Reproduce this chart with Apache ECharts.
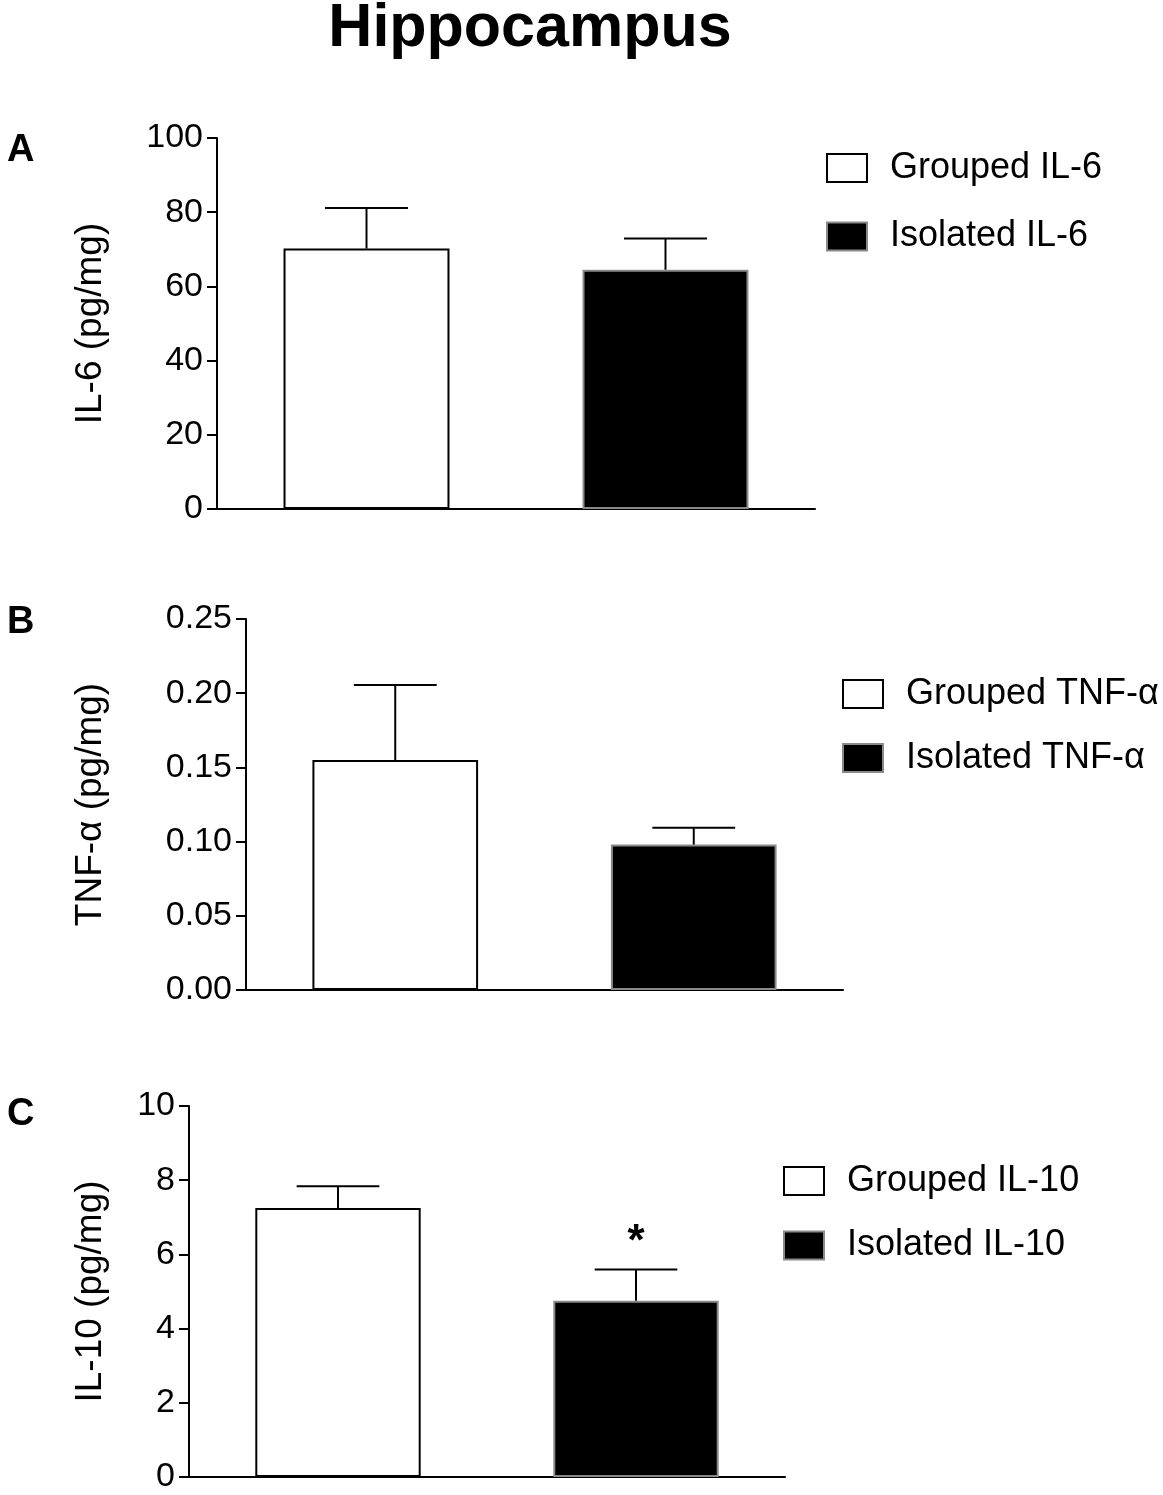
<!DOCTYPE html>
<html>
<head>
<meta charset="utf-8">
<script src="https://cdn.jsdelivr.net/npm/echarts@6/dist/echarts.min.js"></script>
<style>
html,body{margin:0;padding:0;background:#fff;}
#chart{width:1163px;height:1495px;}
</style>
</head>
<body>
<div id="chart"></div>
<script>
// ---------- data ----------
const categories = ['Grouped', 'Isolated'];

const il6Mean = [70.2, 64.5];
const il6Sem = [10.9, 8.4];
const il6Ticks = [0, 20, 40, 60, 80, 100];

const tnfMean = [0.155, 0.098];
const tnfSem = [0.0505, 0.0114];
const tnfTicks = ['0.00', '0.05', '0.10', '0.15', '0.20', '0.25'];

const il10Mean = [7.25, 4.75];
const il10Sem = [0.59, 0.84];
const il10Ticks = [0, 2, 4, 6, 8, 10];
const il10Sig = ['', '*'];

const panelLetters = ['A', 'B', 'C'];
const seriesNamesA = ['Grouped IL-6', 'Isolated IL-6'];
const seriesNamesB = ['Grouped TNF-α', 'Isolated TNF-α'];
const seriesNamesC = ['Grouped IL-10', 'Isolated IL-10'];
const yNames = ['IL-6 (pg/mg)', 'TNF-α (pg/mg)', 'IL-10 (pg/mg)'];
const mainTitle = 'Hippocampus';

// ---------- styling ----------
const FONT = "'Liberation Sans', Arial, Helvetica, sans-serif";
const TICK_FS = 34;
const NAME_FS = 37;
const LEG_FS = 36;

const grids = [
  {left: 217, top: 138, width: 598, height: 371},
  {left: 246, top: 619, width: 597, height: 371},
  {left: 189, top: 1106, width: 596, height: 371}
];
const nameGaps = [108, 137, 80];
const legendPos = [
  {left: 826, top: 150, itemGap: 32.5},
  {left: 842, top: 676, itemGap: 28},
  {left: 783, top: 1163, itemGap: 28.5}
];

const BAR_W = '55.5%';
const CAP_FRAC = 0.2775;

const whiteStyle = {color: '#ffffff', borderColor: '#000000', borderWidth: 2};
const blackStyle = {color: '#000000', borderColor: '#8a8a8a', borderWidth: 2};

function yAxisFor(i, ticks, labelFn) {
  const nums = ticks.map(Number);
  return {
    type: 'value', gridIndex: i,
    min: nums[0], max: nums[nums.length - 1],
    interval: nums[1] - nums[0],
    splitLine: {show: false},
    axisLine: {show: true, lineStyle: {color: '#000', width: 2}},
    axisTick: {show: true, length: 10, lineStyle: {color: '#000', width: 2}},
    axisLabel: {
      color: '#000', fontSize: TICK_FS, fontFamily: FONT, margin: 14,
      formatter: labelFn
    },
    name: yNames[i], nameLocation: 'middle', nameGap: nameGaps[i],
    nameTextStyle: {color: '#000', fontSize: NAME_FS, fontFamily: FONT}
  };
}

function xAxisFor(i) {
  return {
    type: 'category', gridIndex: i, data: categories,
    boundaryGap: true,
    axisLine: {show: true, lineStyle: {color: '#000', width: 2}},
    axisTick: {show: false},
    axisLabel: {show: false},
    splitLine: {show: false}
  };
}

function barSeries(i, names, means) {
  return [
    {
      name: names[0], type: 'bar', xAxisIndex: i, yAxisIndex: i,
      data: [means[0], '-'], barWidth: BAR_W, barGap: '-100%',
      itemStyle: whiteStyle, z: 2
    },
    {
      name: names[1], type: 'bar', xAxisIndex: i, yAxisIndex: i,
      data: ['-', means[1]], barWidth: BAR_W, barGap: '-100%',
      itemStyle: blackStyle, z: 2
    }
  ];
}

function errSeries(i, means, sems, sig) {
  return {
    type: 'custom', xAxisIndex: i, yAxisIndex: i, z: 3,
    data: means.map((m, k) => [k, m, sems[k]]),
    renderItem: function (params, api) {
      const x = api.value(0), m = api.value(1), e = api.value(2);
      const base = api.coord([x, m]);
      const top = api.coord([x, m + e]);
      const half = api.size([1, 0])[0] * CAP_FRAC / 2;
      const st = {stroke: '#000', lineWidth: 2};
      const children = [
        {type: 'line', shape: {x1: base[0], y1: base[1], x2: top[0], y2: top[1]}, style: st},
        {type: 'line', shape: {x1: top[0] - half, y1: top[1], x2: top[0] + half, y2: top[1]}, style: st}
      ];
      const s = sig ? sig[params.dataIndex] : '';
      if (s) {
        children.push({
          type: 'text',
          style: {
            text: s, x: top[0], y: top[1] - 5,
            textAlign: 'center', textVerticalAlign: 'bottom',
            fontSize: 44, fontWeight: 'bold', fontFamily: FONT, fill: '#000'
          }
        });
      }
      return {type: 'group', children: children};
    }
  };
}

function legendFor(i, names) {
  return {
    orient: 'vertical', left: legendPos[i].left, top: legendPos[i].top,
    itemGap: legendPos[i].itemGap, padding: 0,
    itemWidth: 40, itemHeight: 28, icon: 'rect',
    selectedMode: false,
    data: names,
    textStyle: {color: '#000', fontSize: LEG_FS, fontFamily: FONT, lineHeight: 36, padding: [0, 0, 0, 18]}
  };
}

const chart = echarts.init(document.getElementById('chart'), null, {renderer: 'canvas'});

const letterStyle = {fontSize: 38, fontWeight: 'bold', fontFamily: FONT, color: '#000'};

const option = {
  backgroundColor: '#ffffff',
  animation: false,
  title: [
    {text: mainTitle, left: 525, top: -6, textAlign: 'center',
     textStyle: {fontSize: 61, fontWeight: 'bold', fontFamily: FONT, color: '#000'}},
    {text: panelLetters[0], left: 2, top: 127, textStyle: letterStyle},
    {text: panelLetters[1], left: 2, top: 599, textStyle: letterStyle},
    {text: panelLetters[2], left: 2, top: 1091, textStyle: letterStyle}
  ],
  legend: [legendFor(0, seriesNamesA), legendFor(1, seriesNamesB), legendFor(2, seriesNamesC)],
  grid: grids,
  xAxis: [xAxisFor(0), xAxisFor(1), xAxisFor(2)],
  yAxis: [
    yAxisFor(0, il6Ticks, v => String(v)),
    yAxisFor(1, tnfTicks, v => Number(v).toFixed(2)),
    yAxisFor(2, il10Ticks, v => String(v))
  ],
  series: [].concat(
    barSeries(0, seriesNamesA, il6Mean),
    [errSeries(0, il6Mean, il6Sem, null)],
    barSeries(1, seriesNamesB, tnfMean),
    [errSeries(1, tnfMean, tnfSem, null)],
    barSeries(2, seriesNamesC, il10Mean),
    [errSeries(2, il10Mean, il10Sem, il10Sig)]
  )
};

chart.setOption(option);
</script>
</body>
</html>
